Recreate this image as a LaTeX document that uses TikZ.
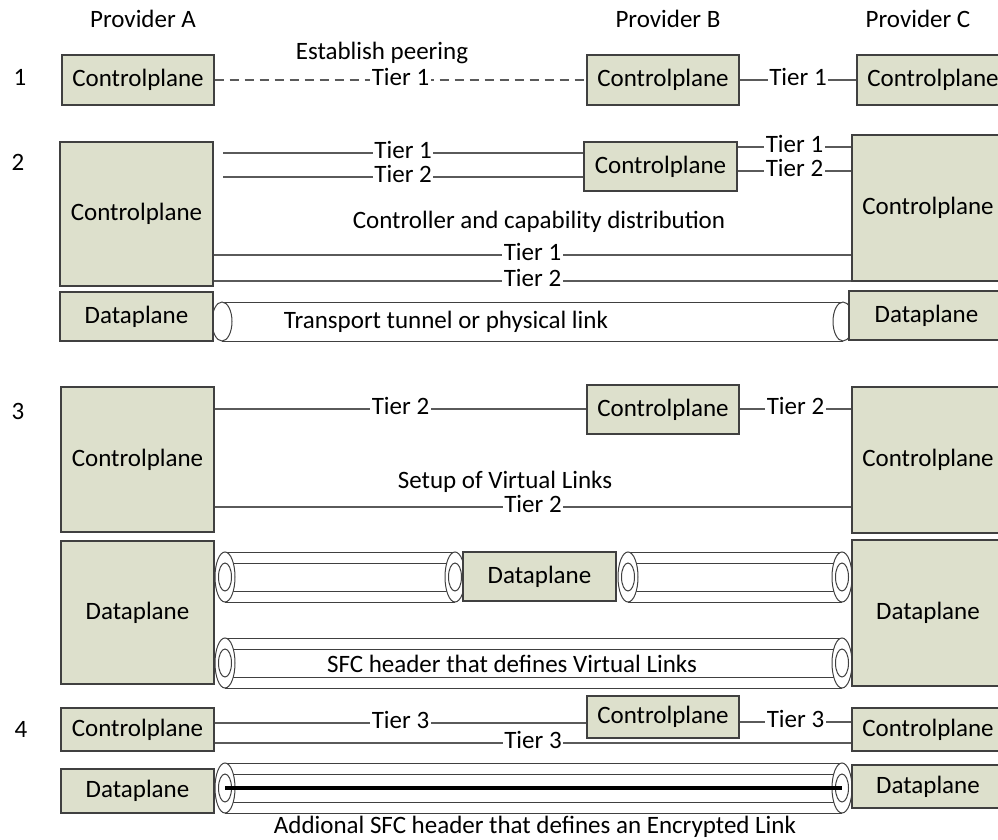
\documentclass[tikz,border=0pt]{standalone}
\usepackage{fontspec}
\setmainfont{Carlito}
\usetikzlibrary{calc}

\definecolor{planefill}{RGB}{221,224,204}
\definecolor{planeedge}{RGB}{64,64,64}
\definecolor{wirecol}{RGB}{90,90,90}

% box given by its corners (x1,y1)-(x2,y2), y measured downwards
\newcommand{\planebox}[6]{%
  \node[plane, minimum width={(#4-#2)*1pt}, minimum height={(#5-#3)*1pt}]
    (#1) at ({(#2+#4)/2},{(#3+#5)/2}) {#6};}

% plain tunnel between two named end points
\newcommand{\singletube}[3]{%
  \fill[white] ($(#1)+(0,-#3)$) rectangle ($(#2)+(0,#3)$);
  \draw[tubeline] ($(#1)+(0,-#3)$) -- ($(#2)+(0,-#3)$);
  \draw[tubeline] ($(#1)+(0,#3)$) -- ($(#2)+(0,#3)$);
  \draw[tubeline,fill=white] (#1) ellipse [x radius=10, y radius=#3];
  \draw[tubeline,fill=white] (#2) ellipse [x radius=10, y radius=#3];}

% tunnel with an inner tube
\newcommand{\doubletube}[2]{%
  \fill[white] ($(#1)+(0,-25)$) rectangle ($(#2)+(0,25)$);
  \foreach \dy in {-25,-14,14,25}
    \draw[tubeline] ($(#1)+(0,\dy)$) -- ($(#2)+(0,\dy)$);
  \foreach \p in {#1,#2} {
    \draw[tubeline,fill=white] (\p) ellipse [x radius=10, y radius=25];
    \draw[tubeline] (\p) ellipse [x radius=6.5, y radius=14];
  }}

\begin{document}
\begin{tikzpicture}[x=1pt, y=-1pt,
  font=\fontsize{25}{30}\selectfont,
  plane/.style={draw=planeedge, fill=planefill, line width=1.4pt, inner sep=0pt,
    text height=19pt, text depth=6pt},
  wire/.style={draw=wirecol, line width=1.3pt},
  tier/.style={fill=white, inner xsep=1.5pt, inner ysep=0pt,
    text height=15pt, text depth=4pt},
  note/.style={anchor=base, inner sep=0pt},
  tubeline/.style={draw=planeedge, line width=1pt}]

\useasboundingbox (0,0) rectangle (998,840);

% column headings and step numbers
\node[note] (hA) at (143,28) {Provider A};
\node[note] (hB) at (668,28) {Provider B};
\node[note] (hC) at (918,28) {Provider C};
\node[note] (n1) at (20,86) {1};
\node[note] (n2) at (18,170) {2};
\node[note] (n3) at (18,419) {3};
\node[note] (n4) at (21,737) {4};

% tunnels
\coordinate (t2l) at (222,321.5);
\coordinate (t2r) at (843,321.5);
\singletube{t2l}{t2r}{19.5}

\coordinate (t3al) at (225,577);
\coordinate (t3ar) at (455,577);
\coordinate (t3bl) at (628,577);
\coordinate (t3br) at (842,577);
\coordinate (t3cl) at (225,663);
\coordinate (t3cr) at (842,663);
\doubletube{t3al}{t3ar}
\doubletube{t3bl}{t3br}
\doubletube{t3cl}{t3cr}

\coordinate (t4l) at (225,788);
\coordinate (t4r) at (842,788);
\doubletube{t4l}{t4r}
\draw[line width=4.5pt, black] (t4l) -- (t4r);

% step 1
\planebox{a1}{62}{55}{214}{105}{Controlplane}
\planebox{b1}{587}{55}{739}{105}{Controlplane}
\planebox{c1}{857}{55}{1009}{105}{Controlplane}

% step 2
\planebox{a2}{60}{142}{213}{286}{Controlplane}
\planebox{b2}{584}{142}{737}{191}{Controlplane}
\planebox{c2}{852}{135}{1004}{281}{Controlplane}
\planebox{ad2}{60}{292}{213}{341}{Dataplane}
\planebox{cd2}{849}{291}{1004}{340}{Dataplane}

% step 3
\planebox{a3}{61}{387}{214}{532}{Controlplane}
\planebox{b3}{587}{385}{739}{434}{Controlplane}
\planebox{c3}{852}{387}{1004}{533}{Controlplane}
\planebox{ad3}{61}{541}{214}{684}{Dataplane}
\planebox{bd3}{463}{552}{616}{601}{Dataplane}
\planebox{cd3}{852}{540}{1004}{686}{Dataplane}

% step 4
\planebox{a4}{61}{708}{214}{751}{Controlplane}
\planebox{b4}{587}{696}{739}{738}{Controlplane}
\planebox{c4}{852}{708}{1004}{751}{Controlplane}
\planebox{ad4}{61}{769}{214}{813}{Dataplane}
\planebox{cd4}{852}{765}{1004}{808}{Dataplane}

% step 1 links
\draw[wire, dash pattern=on 9pt off 6pt] (a1) -- node[tier] {Tier 1} (b1);
\draw[wire] (b1) -- node[tier] {Tier 1} (c1);
\node[note] (peer) at (382,60) {Establish peering};

% step 2 links
\coordinate (s2a) at (223,153);
\coordinate (s2b) at (223,177);
\draw[wire] (s2a) -- node[tier] {Tier 1} (b2.west |- s2a);
\draw[wire] (s2b) -- node[tier] {Tier 2} (b2.west |- s2b);
\draw[wire] (b2.east |- 0,147) -- node[tier] {Tier 1} (c2.west |- 0,147);
\draw[wire] (b2.east |- 0,171) -- node[tier] {Tier 2} (c2.west |- 0,171);
\draw[wire] (a2.east |- 0,255) -- node[tier] {Tier 1} (c2.west |- 0,255);
\draw[wire] (a2.east |- 0,281) -- node[tier] {Tier 2} (c2.west |- 0,281);
\node[note] (dist) at (539,228) {Controller and capability distribution};
\node[note] (trans) at (446,328) {Transport tunnel or physical link};

% step 3 links
\draw[wire] (a3.east |- 0,409) -- node[tier] {Tier 2} (b3.west |- 0,409);
\draw[wire] (b3.east |- 0,409) -- node[tier] {Tier 2} (c3.west |- 0,409);
\draw[wire] (a3.east |- 0,507) -- node[tier] {Tier 2} (c3.west |- 0,507);
\node[note] (setup) at (505,488) {Setup of Virtual Links};
\node[note] (sfc) at (512,672) {SFC header that defines Virtual Links};

% step 4 links
\draw[wire] (a4.east |- 0,723) -- node[tier] {Tier 3} (b4.west |- 0,723);
\draw[wire] (b4.east |- 0,722) -- node[tier] {Tier 3} (c4.west |- 0,722);
\draw[wire] (a4.east |- 0,743) -- node[tier] {Tier 3} (c4.west |- 0,743);
\node[note] (enc) at (535,833) {Addional SFC header that defines an Encrypted Link};

\end{tikzpicture}
\end{document}
